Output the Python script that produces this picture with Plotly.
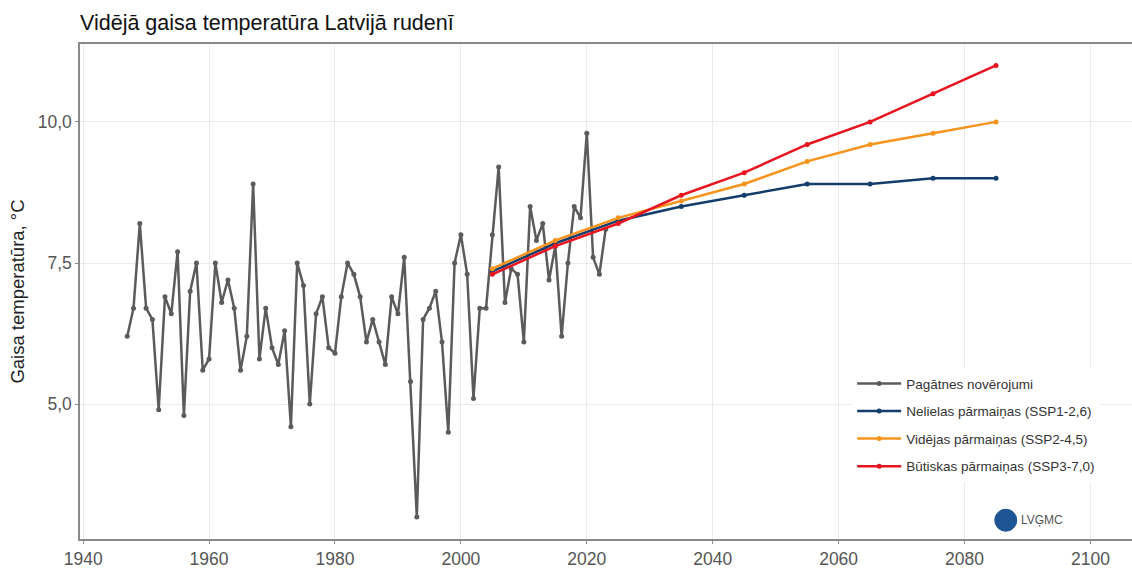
import plotly.graph_objects as go

obs_years = list(range(1947, 2024))
obs_temp = [
    6.2, 6.7, 8.2, 6.7, 6.5, 4.9, 6.9, 6.6, 7.7, 4.8,
    7.0, 7.5, 5.6, 5.8, 7.5, 6.8, 7.2, 6.7, 5.6, 6.2,
    8.9, 5.8, 6.7, 6.0, 5.7, 6.3, 4.6, 7.5, 7.1, 5.0,
    6.6, 6.9, 6.0, 5.9, 6.9, 7.5, 7.3, 6.9, 6.1, 6.5,
    6.1, 5.7, 6.9, 6.6, 7.6, 5.4, 3.0, 6.5, 6.7, 7.0,
    6.1, 4.5, 7.5, 8.0, 7.3, 5.1, 6.7, 6.7, 8.0, 9.2,
    6.8, 7.4, 7.3, 6.1, 8.5, 7.9, 8.2, 7.2, 7.8, 6.2,
    7.5, 8.5, 8.3, 9.8, 7.6, 7.3, 8.1,
]

proj_years = [2005, 2015, 2025, 2035, 2045, 2055, 2065, 2075, 2085]
ssp126 = [7.35, 7.85, 8.25, 8.5, 8.7, 8.9, 8.9, 9.0, 9.0]
ssp245 = [7.4, 7.9, 8.3, 8.6, 8.9, 9.3, 9.6, 9.8, 10.0]
ssp370 = [7.3, 7.8, 8.2, 8.7, 9.1, 9.6, 10.0, 10.5, 11.0]

x_ticks = [1940, 1960, 1980, 2000, 2020, 2040, 2060, 2080, 2100]
y_ticks = [5.0, 7.5, 10.0]
y_tick_text = ["5,0", "7,5", "10,0"]

FONT = "Liberation Sans, Arial, sans-serif"

series = [
    ("Pagātnes novērojumi", obs_years, obs_temp, "#5b5b5b"),
    ("Nelielas pārmaiņas (SSP1-2,6)", proj_years, ssp126, "#143d6b"),
    ("Vidējas pārmaiņas (SSP2-4,5)", proj_years, ssp245, "#f7941d"),
    ("Būtiskas pārmaiņas (SSP3-7,0)", proj_years, ssp370, "#e8141f"),
]

fig = go.Figure()
for i, (name, xs, ys, color) in enumerate(series):
    fig.add_trace(
        go.Scatter(
            x=xs,
            y=ys,
            mode="lines+markers",
            name=name,
            legendgroup=f"g{i}",
            line={"color": color, "width": 2.5},
            marker={"color": color, "size": 5},
        )
    )

# LVĢMC logo
fig.add_shape(
    type="circle",
    xref="paper",
    yref="paper",
    xsizemode="pixel",
    ysizemode="pixel",
    xanchor=0.880,
    yanchor=0.038,
    x0=-11,
    x1=11,
    y0=-11,
    y1=11,
    fillcolor="#1f5494",
    line={"color": "#1f5494", "width": 1},
)
fig.add_annotation(
    text="LVĢMC",
    xref="paper",
    yref="paper",
    x=0.8925,
    y=0.038,
    xanchor="left",
    yanchor="middle",
    showarrow=False,
    font={"family": FONT, "size": 12, "color": "#555555"},
)

fig.update_layout(
    width=1132,
    height=568,
    margin={"l": 80, "r": 0, "t": 44, "b": 29},
    paper_bgcolor="white",
    plot_bgcolor="white",
    font={"family": FONT, "color": "#222222"},
    title={
        "text": "Vidējā gaisa temperatūra Latvijā rudenī",
        "x": 80 / 1132,
        "xanchor": "left",
        "y": 1 - 22 / 568,
        "yanchor": "middle",
        "font": {"family": FONT, "size": 21.5, "color": "#111111"},
    },
    legend={
        "x": 0.734,
        "y": 0.345,
        "xanchor": "left",
        "yanchor": "top",
        "bgcolor": "white",
        "font": {"family": FONT, "size": 13.5, "color": "#333333"},
        "tracegroupgap": 7,
        "itemwidth": 44,
    },
    showlegend=True,
)
fig.update_xaxes(
    range=[1939.5, 2106.6],
    tickvals=x_ticks,
    automargin=False,
    showgrid=True,
    gridcolor="#ebebeb",
    gridwidth=1,
    zeroline=False,
    showline=True,
    linecolor="#8a8a8a",
    linewidth=1.5,
    mirror=True,
    ticks="outside",
    ticklen=3,
    tickcolor="#8a8a8a",
    tickfont={"family": FONT, "size": 17.5, "color": "#555555"},
)
fig.update_yaxes(
    range=[2.61, 11.38],
    tickvals=y_ticks,
    ticktext=y_tick_text,
    automargin=False,
    showgrid=True,
    gridcolor="#ebebeb",
    gridwidth=1,
    zeroline=False,
    showline=True,
    linecolor="#8a8a8a",
    linewidth=1.5,
    ticks="outside",
    ticklen=3,
    tickcolor="#8a8a8a",
    tickfont={"family": FONT, "size": 17.5, "color": "#555555"},
    title={"text": "Gaisa temperatūra, °C", "font": {"family": FONT, "size": 18.5, "color": "#222222"}, "standoff": 8},
)

fig.write_html(
    "out.html",
    config={"displayModeBar": False},
    post_script="document.body.style.margin='0';document.body.style.overflow='hidden';",
)
